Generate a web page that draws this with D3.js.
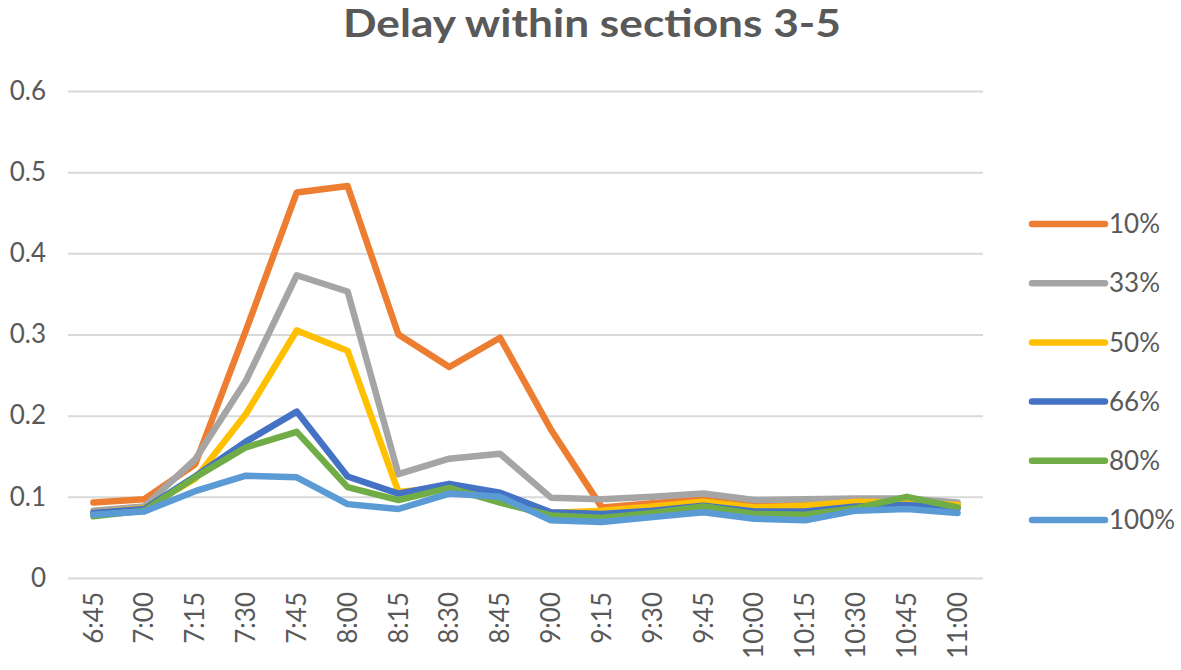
<!DOCTYPE html>
<html>
<head>
<meta charset="utf-8">
<script src="https://cdn.jsdelivr.net/npm/d3@7"></script>
<style>
  body { margin: 0; background: #fff; }
  text { font-family: Lato, "Open Sans", sans-serif; fill: #595959; }
</style>
</head>
<body>
<div class="canvas"></div>
<script>
// data
const times = ['6:45', '7:00', '7:15', '7:30', '7:45', '8:00', '8:15', '8:30', '8:45',
  '9:00', '9:15', '9:30', '9:45', '10:00', '10:15', '10:30', '10:45', '11:00'];
const seriesNames = ['10%', '33%', '50%', '66%', '80%', '100%'];
const yTicks = [0, 0.1, 0.2, 0.3, 0.4, 0.5, 0.6];

const pct10 = [0.093, 0.097, 0.140, 0.305, 0.475, 0.483, 0.300, 0.260, 0.296, 0.183, 0.087, 0.092, 0.098, 0.089, 0.090, 0.094, 0.095, 0.090];
const pct33 = [0.083, 0.088, 0.146, 0.243, 0.373, 0.353, 0.128, 0.147, 0.153, 0.099, 0.097, 0.100, 0.104, 0.096, 0.097, 0.098, 0.098, 0.093];
const pct50 = [0.080, 0.086, 0.122, 0.202, 0.305, 0.280, 0.106, 0.112, 0.100, 0.080, 0.083, 0.088, 0.094, 0.087, 0.089, 0.094, 0.093, 0.090];
const pct66 = [0.080, 0.085, 0.125, 0.168, 0.205, 0.125, 0.104, 0.116, 0.105, 0.081, 0.079, 0.083, 0.089, 0.082, 0.082, 0.088, 0.090, 0.086];
const pct80 = [0.076, 0.083, 0.124, 0.161, 0.180, 0.112, 0.096, 0.111, 0.093, 0.077, 0.074, 0.080, 0.088, 0.079, 0.078, 0.086, 0.100, 0.087];
const pct100 = [0.078, 0.082, 0.107, 0.126, 0.124, 0.091, 0.085, 0.104, 0.100, 0.071, 0.069, 0.075, 0.081, 0.073, 0.071, 0.083, 0.085, 0.080];

const colours = ['#ED7D31', '#A5A5A5', '#FFC000', '#4472C4', '#70AD47', '#5B9BD5'];

const dims = { width: 1181, height: 670 };
const plot = { left: 68, right: 983, top: 91, bottom: 578 };

const svg = d3.select('.canvas')
  .append('svg')
  .attr('width', dims.width)
  .attr('height', dims.height);

const x = d3.scaleBand()
  .domain(times)
  .range([plot.left, plot.right]);

const y = d3.scaleLinear()
  .domain([0, 0.6])
  .range([plot.bottom, plot.top]);

// title (stretched a bit, the original is wider)
svg.append('text')
  .attr('x', 343)
  .attr('y', 37)
  .attr('font-size', 39)
  .attr('font-weight', 'bold')
  .attr('textLength', 498)
  .attr('lengthAdjust', 'spacingAndGlyphs')
  .text('Delay within sections 3-5');

// gridlines + y labels
const yAxis = d3.axisLeft(y)
  .tickValues(yTicks)
  .tickSize(-(plot.right - plot.left))
  .tickPadding(22)
  .tickFormat(d => d === 0 ? '0' : d3.format('.1f')(d));

svg.append('g')
  .attr('transform', `translate(${plot.left}, 0)`)
  .call(yAxis)
  .call(g => g.select('.domain').remove())
  .call(g => g.selectAll('line').attr('stroke', '#D9D9D9').attr('stroke-width', 2))
  .call(g => g.selectAll('text').attr('font-size', 26).attr('font-family', 'Lato').attr('fill', '#595959'));

// x labels, rotated
const xAxis = d3.axisBottom(x).tickSize(0).tickPadding(0);

svg.append('g')
  .attr('transform', `translate(0, ${plot.bottom})`)
  .call(xAxis)
  .call(g => g.select('.domain').remove())
  .call(g => g.selectAll('text')
    .attr('font-size', 26)
    .attr('font-family', 'Lato')
    .attr('fill', '#595959')
    .attr('text-anchor', 'end')
    .attr('transform', 'rotate(-90)')
    .attr('x', -14)
    .attr('y', 0)
    .attr('dy', '0.35em'));

// lines
const allSeries = [pct10, pct33, pct50, pct66, pct80, pct100];

const line = d3.line()
  .x((d, i) => x(times[i]) + x.bandwidth() / 2)
  .y(d => y(d));

svg.append('g')
  .selectAll('path')
  .data(allSeries)
  .enter()
  .append('path')
    .attr('d', line)
    .attr('fill', 'none')
    .attr('stroke', (d, i) => colours[i])
    .attr('stroke-width', 6.5)
    .attr('stroke-linejoin', 'round')
    .attr('stroke-linecap', 'round');

// legend
const legend = svg.append('g')
  .attr('transform', 'translate(1032, 224)');

const items = legend.selectAll('.item')
  .data(seriesNames)
  .enter()
  .append('g')
    .attr('class', 'item')
    .attr('transform', (d, i) => `translate(0, ${i * 59.2})`);

items.append('line')
  .attr('x1', 0)
  .attr('x2', 73)
  .attr('stroke', (d, i) => colours[i])
  .attr('stroke-width', 6.5)
  .attr('stroke-linecap', 'round');

items.append('text')
  .attr('x', 77)
  .attr('dy', '0.35em')
  .attr('font-size', 26)
  .text(d => d);
</script>
</body>
</html>
